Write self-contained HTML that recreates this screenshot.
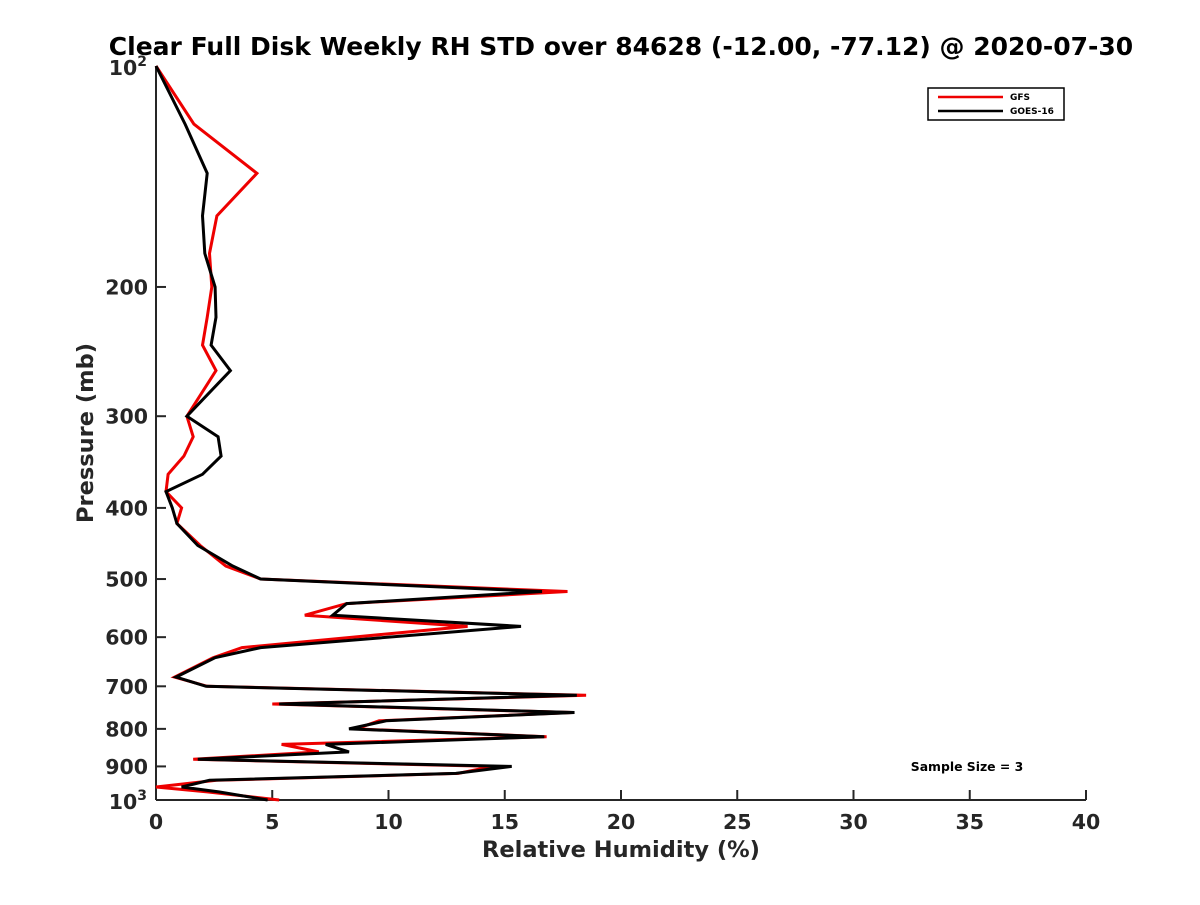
<!DOCTYPE html>
<html><head><meta charset="utf-8"><style>
body{margin:0;background:#fff}
svg text{font-family:"DejaVu Sans","Liberation Sans",sans-serif;font-weight:bold;fill:#262626}
</style></head><body>
<svg id="chart" width="1200" height="900" xmlns="http://www.w3.org/2000/svg">
<text x="621" y="55" text-anchor="middle" font-size="25" style="fill:#000">Clear Full Disk Weekly RH STD over 84628 (-12.00, -77.12) @ 2020-07-30</text>
<g id="axes"></g>
<g id="series"></g>
<text x="621" y="857" text-anchor="middle" font-size="22.5">Relative Humidity (%)</text>
<text transform="translate(93,433) rotate(-90)" text-anchor="middle" font-size="22.5">Pressure (mb)</text>
<text x="967" y="771" text-anchor="middle" font-size="12.4" style="fill:#000">Sample Size = 3</text>
<g>
<rect x="928" y="88" width="136" height="32" fill="#fff" stroke="#000" stroke-width="1.5"/>
<line x1="938" y1="97" x2="1003" y2="97" stroke="#e00" stroke-width="2.5"/>
<text x="1010" y="100" font-size="9" style="fill:#000">GFS</text>
<line x1="938" y1="111" x2="1003" y2="111" stroke="#000" stroke-width="2.5"/>
<text x="1010" y="114" font-size="9" style="fill:#000">GOES-16</text>
</g>
</svg>
<script>
const pressures=[100,120,140,160,180,200,220,240,260,300,320,340,360,380,400,420,450,480,500,520,540,560,580,620,640,680,700,720,740,760,780,800,820,840,860,880,900,920,940,960,975,1000];
const gfsValues=[0,1.63,4.34,2.62,2.3,2.4,2.2,2.0,2.58,1.33,1.6,1.2,0.52,0.43,1.1,0.9,1.9,3.0,4.5,17.7,8.2,6.4,13.4,3.7,2.45,0.8,2.2,18.5,5.0,17.9,9.6,8.6,16.8,5.4,7.0,1.6,14.5,13.0,2.6,0,2.2,5.3];
const goesValues=[0,1.25,2.2,2.0,2.1,2.54,2.58,2.37,3.2,1.33,2.67,2.8,2.0,0.43,0.7,0.9,1.8,3.3,4.5,16.6,8.2,7.6,15.7,4.5,2.54,0.86,2.15,18.1,5.3,18.0,9.9,8.3,16.7,7.3,8.3,1.8,15.3,12.9,2.3,1.1,2.7,4.8];
const xTicks=[0,5,10,15,20,25,30,35,40];
const yTicks=[200,300,400,500,600,700,800,900];
const NS="http://www.w3.org/2000/svg";
const X0=156,X1=1086,Y0=66,Y1=800;
function xs(v){return X0+(v/40)*(X1-X0);}
function ys(p){return Y0+Math.log10(p/100)*(Y1-Y0);}
function mk(tag,attrs,parent){const e=document.createElementNS(NS,tag);for(const k in attrs)e.setAttribute(k,attrs[k]);parent.appendChild(e);return e;}
const axes=document.getElementById('axes');
let a=mk('line',{x1:X0,y1:Y0,x2:X0,y2:Y1,stroke:'#262626','stroke-width':2},axes);


a=mk('line',{x1:X0,y1:Y1,x2:X1,y2:Y1,stroke:'#262626','stroke-width':2},axes);


xTicks.forEach(t=>{
  const x=xs(t);
  const l=mk('line',{x1:x,y1:Y1,x2:x,y2:Y1-10,stroke:'#262626','stroke-width':2},axes);
  
  
  const tx=mk('text',{x:x,y:Y1+29,'text-anchor':'middle','font-size':20.5},axes);
  tx.textContent=t;
  
  
});
yTicks.forEach(t=>{
  const y=ys(t);
  const l=mk('line',{x1:X0,y1:y,x2:X0+10,y2:y,stroke:'#262626','stroke-width':2},axes);
  
  
  const tx=mk('text',{x:X0-8,y:y+7.5,'text-anchor':'end','font-size':20.5},axes);
  tx.textContent=t;
  
  
});
[[100,'2'],[1000,'3']].forEach(([p,e])=>{
  const y=ys(p);
  const tx=mk('text',{x:X0-9,y:y+9,'text-anchor':'end','font-size':20.5},axes);
  tx.innerHTML='10<tspan dy="-9" font-size="14">'+e+'</tspan>';
  
  
});
const series=document.getElementById('series');
function drawLine(vals,color,name){
  const d=vals.map((v,i)=>(i?'L':'M')+xs(v).toFixed(1)+','+ys(pressures[i]).toFixed(1)).join('');
  const p=mk('path',{d:d,fill:'none',stroke:color,'stroke-width':3,'stroke-linejoin':'miter','stroke-miterlimit':4},series);
  
  
}
drawLine(gfsValues,'#e00','gfs-line');
drawLine(goesValues,'#000','goes16-line');
</script>
</body></html>
